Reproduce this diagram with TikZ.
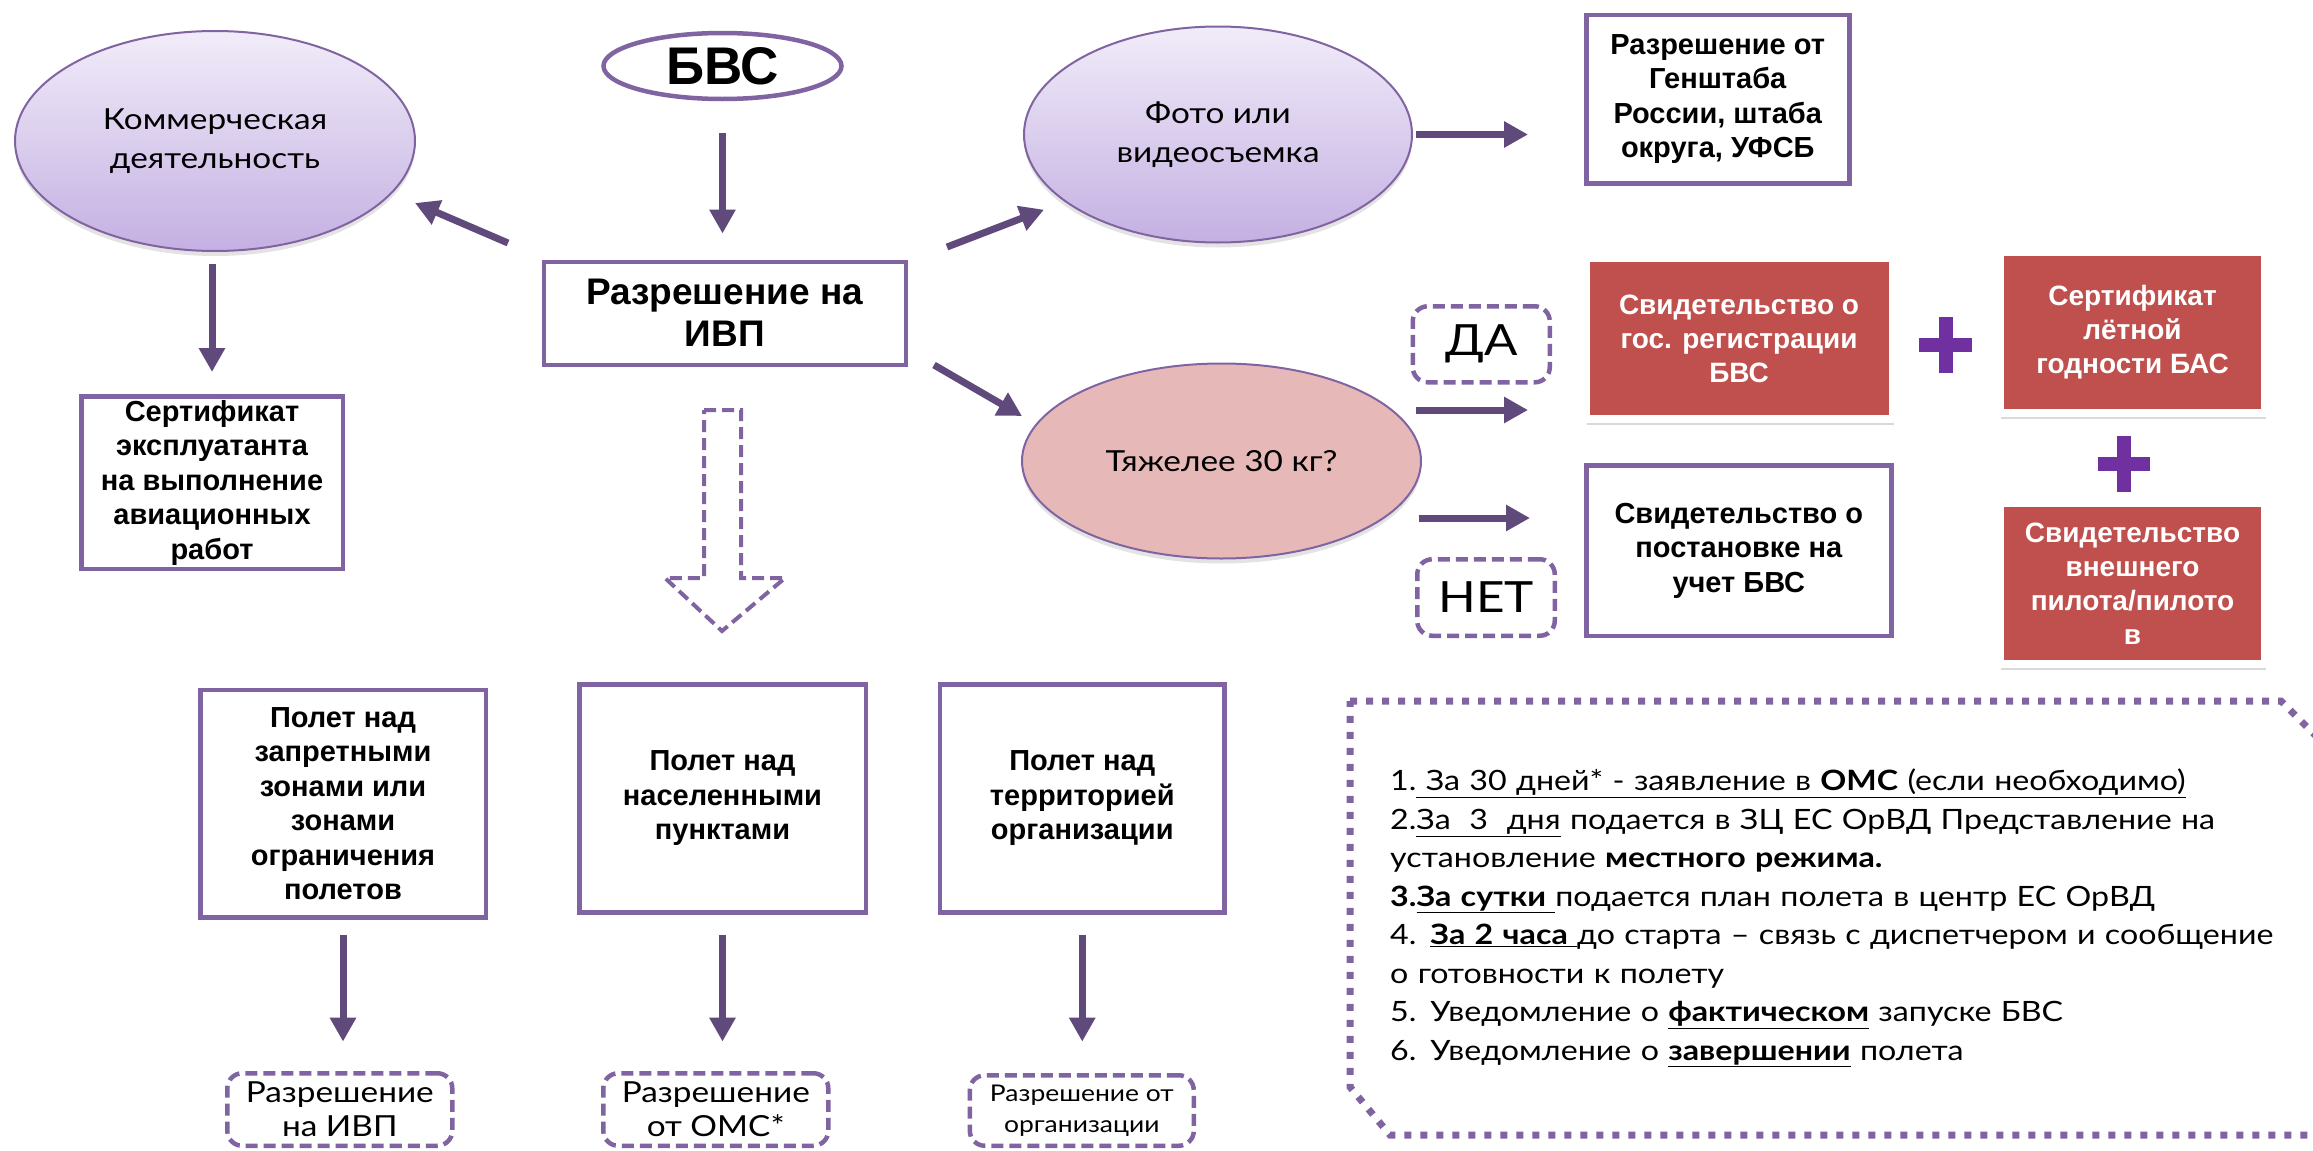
\documentclass[tikz,border=0pt]{standalone}
\usepackage{fontspec}
\setmainfont{Liberation Sans}
\newfontfamily\lightfnt{Lato}[FakeStretch=1.15]
\usetikzlibrary{shapes.geometric, arrows.meta, shadows}
\definecolor{pborder}{HTML}{8064A2}
\definecolor{parrow}{HTML}{604A7B}
\definecolor{redc}{HTML}{C0504D}
\definecolor{pluscol}{HTML}{7030A0}
\definecolor{pinkc}{HTML}{E6B9B8}
\definecolor{lavtop}{HTML}{F1ECF9}
\definecolor{lavbot}{HTML}{C4B0E2}
\begin{document}
\begin{tikzpicture}[x=1pt,y=-1pt,
  box/.style={draw=pborder, line width=4.5pt, fill=white, inner sep=0pt, align=center,
    font=\bfseries\fontsize{29}{34.5}\selectfont},
  redbox/.style={draw=white, line width=8pt, fill=redc, text=white, inner sep=0pt, align=center,
    font=\bfseries\fontsize{28}{34}\selectfont,
    drop shadow={opacity=0.3, shadow xshift=1pt, shadow yshift=-6pt}},
  ovalbase/.style={ellipse, draw=pborder, line width=2pt, inner sep=0pt, align=center,
    drop shadow={opacity=0.22, shadow xshift=0pt, shadow yshift=-5pt},
    font=\lightfnt\fontsize{29}{39}\selectfont},
  oval/.style={ovalbase, top color=lavtop, bottom color=lavbot},
  dbox/.style={draw=pborder, line width=4.5pt, dash pattern=on 12pt off 6pt, rounded corners=15pt,
    inner sep=0pt, align=center, fill=white},
  conn/.style={draw=parrow, line width=7pt, -{Triangle[width=25pt,length=24pt]}},
]
\useasboundingbox (0,0) rectangle (2313,1151);
\clip (0,0) rectangle (2313,1151);

% top row
\node[oval, minimum width=400pt, minimum height=220pt] (komm) at (215,141) {Коммерческая\\деятельность};
\node[ellipse, draw=pborder, line width=4.5pt, fill=white, inner sep=0pt,
  minimum width=238pt, minimum height=66pt, font=\bfseries\fontsize{53}{55}\selectfont] (bvs) at (722.5,66) {БВС};
\node[box, minimum width=362pt, minimum height=103pt, font=\bfseries\fontsize{37}{42}\selectfont] (ivp) at (724.75,313.25) {Разрешение на\\ИВП};
\node[box, minimum width=261.5pt, minimum height=172.5pt] (cert) at (212,482.5) {Сертификат\\эксплуатанта\\на выполнение\\авиационных\\работ};
\node[oval, minimum width=388pt, minimum height=216pt] (foto) at (1218,134.5) {Фото или\\видеосъемка};
\node[ovalbase, fill=pinkc, minimum width=399pt, minimum height=195pt] (heavy) at (1221.5,461) {Тяжелее 30 кг?};
\node[box, minimum width=263pt, minimum height=168.5pt] (gsh) at (1717.75,99) {Разрешение от\\Генштаба\\России, штаба\\округа, УФСБ};

% right block
\node[redbox, minimum width=307pt, minimum height=161pt] (red1) at (1739,338.5) {Свидетельство о\\гос. регистрации\\БВС};
\node[redbox, minimum width=265pt, minimum height=161pt] (red2) at (2132.5,332.5) {Сертификат\\лётной\\годности БАС};
\node[redbox, minimum width=265pt, minimum height=161pt] (red3) at (2132.5,583.5) {Свидетельство\\внешнего\\пилота/пилото\\в};
\node[box, minimum width=305pt, minimum height=170.5pt] (postan) at (1738.8,550.5) {Свидетельство о\\постановке на\\учет БВС};
\node[dbox, minimum width=137pt, minimum height=76pt, font=\lightfnt\fontsize{43}{46}\selectfont] (da) at (1481.25,344.3) {ДА};
\node[dbox, minimum width=137.5pt, minimum height=76.5pt, font=\lightfnt\fontsize{43}{46}\selectfont] (net) at (1486,597.5) {НЕТ};

\draw[pluscol, line width=14pt] (1919,345) -- (1972,345) (1945.5,317) -- (1945.5,373);
\draw[pluscol, line width=14pt] (2097.6,463.6) -- (2150.4,463.6) (2124,435.5) -- (2124,491.7);

% bottom row
\node[box, minimum width=285.5pt, minimum height=227.5pt] (b1) at (343,803.5) {Полет над\\запретными\\зонами или\\зонами\\ограничения\\полетов};
\node[box, minimum width=286.5pt, minimum height=228pt] (b2) at (722.5,798.25) {Полет над\\населенными\\пунктами};
\node[box, minimum width=284.6pt, minimum height=228pt] (b3) at (1082.25,798.25) {Полет над\\территорией\\организации};
\node[dbox, minimum width=225pt, minimum height=72.5pt, font=\lightfnt\fontsize{29}{34}\selectfont] (p1) at (339.8,1109.5) {Разрешение\\на ИВП};
\node[dbox, minimum width=225pt, minimum height=72.5pt, font=\lightfnt\fontsize{29}{34}\selectfont] (p2) at (715.8,1109.5) {Разрешение\\от ОМС*};
\node[dbox, minimum width=224pt, minimum height=70.5pt, font=\lightfnt\fontsize{23}{31}\selectfont] (p3) at (1081.8,1110.5) {Разрешение от\\организации};

% hollow dashed arrow
\draw[draw=pborder, line width=4pt, dash pattern=on 12pt off 6pt, fill=white]
  (704,410) -- (741,410) -- (741,578) -- (785,578) -- (722,631) -- (665,578) -- (704,578) -- cycle;

% connectors
\coordinate (a1s) at (508,243); \coordinate (a1e) at (415,203);
\coordinate (a2s) at (947,247); \coordinate (a2e) at (1044,209.7);
\coordinate (a3s) at (934,365); \coordinate (a3e) at (1022,416);
\coordinate (yesS) at (1416,410); \coordinate (yesE) at (1528,410);
\coordinate (noS) at (1419,518); \coordinate (noE) at (1530,518);
\draw[conn, shorten <=31.5pt, shorten >=26pt] (bvs.south) -- (bvs.south |- ivp.north);
\draw[conn, shorten <=12pt, shorten >=22pt] (komm.south -| cert.north) -- (cert.north);
\draw[conn] (a1s) -- (a1e);
\draw[conn] (a2s) -- (a2e);
\draw[conn] (a3s) -- (a3e);
\draw[conn, shorten <=3pt, shorten >=56pt] (foto.east) -- (foto.east -| gsh.west);
\draw[conn] (yesS) -- (yesE);
\draw[conn] (noS) -- (noE);
\draw[conn, shorten <=15.5pt, shorten >=29.4pt] (b1.south) -- (b1.south |- p1.north);
\draw[conn, shorten <=20.5pt, shorten >=29.4pt] (b2.south) -- (b2.south |- p2.north);
\draw[conn, shorten <=20.5pt, shorten >=31.4pt] (b3.south) -- (b3.south |- p3.north);

% dotted notes frame
\draw[pborder, line width=7pt, dash pattern=on 7pt off 9pt]
  (1350,701) -- (2281,701) -- (2330,750) -- (2330,1135) -- (1390,1135) -- (1350,1087) -- cycle;
\node[anchor=north west, inner sep=0pt, text width=891pt, align=left,
  font=\lightfnt\fontsize{28}{38.5}\selectfont] (steps) at (1390,769) {%
1.\underline{\ За 30 дней* - заявление в \textbf{ОМС} (если необходимо)}\\
\makebox[891pt][s]{2.\underline{За\ \ 3\ \ дня} подается в ЗЦ ЕС ОрВД Представление на}\\
установление \textbf{местного режима.}\\
\textbf{3.\underline{За сутки\ }}подается план полета в центр ЕС ОрВД\\
\makebox[891pt][s]{4. \textbf{\underline{За 2 часа\ }}до старта – связь с диспетчером и сообщение}\\
о готовности к полету\\
5. Уведомление о \textbf{\underline{фактическом}} запуске БВС\\
6. Уведомление о \textbf{\underline{завершении}} полета};
\end{tikzpicture}
\end{document}
